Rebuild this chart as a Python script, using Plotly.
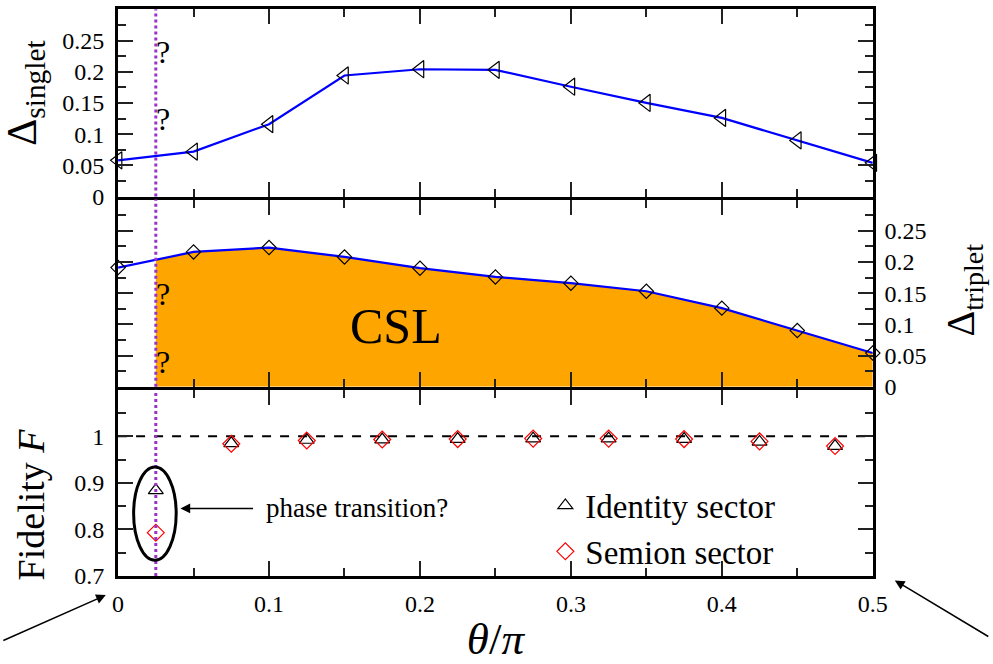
import numpy as np
import plotly.graph_objects as go

# ---- data -------------------------------------------------------------
theta = [0.0, 0.05, 0.10, 0.15, 0.20, 0.25, 0.30, 0.35, 0.40, 0.45, 0.50]
gap_singlet = [0.058, 0.072, 0.116, 0.194, 0.204, 0.203, 0.176, 0.150, 0.126, 0.090, 0.054]
gap_triplet = [0.191, 0.216, 0.223, 0.208, 0.190, 0.176, 0.166, 0.153, 0.126, 0.090, 0.054]

theta_fid = [0.025, 0.075, 0.125, 0.175, 0.225, 0.275, 0.325, 0.375, 0.425, 0.475]
fid_identity = [0.884, 0.985, 0.992, 0.993, 0.994, 0.995, 0.995, 0.994, 0.988, 0.979]
fid_semion = [0.793, 0.984, 0.991, 0.993, 0.994, 0.995, 0.995, 0.994, 0.989, 0.979]

transition = 0.025  # suspected phase-transition point (theta/pi)

x_ticks = [0, 0.1, 0.2, 0.3, 0.4, 0.5]
x_ticktext = ["0", "0.1", "0.2", "0.3", "0.4", "0.5"]
gap_ticks = [0, 0.05, 0.10, 0.15, 0.20, 0.25]
gap_ticktext = ["0", "0.05", "0.1", "0.15", "0.2", "0.25"]
fid_ticks = [0.7, 0.8, 0.9, 1.0]
fid_ticktext = ["0.7", "0.8", "0.9", "1"]

FONT = "'Liberation Serif', Tinos, 'Times New Roman', 'DejaVu Serif', serif"
W, H = 993, 664
LW = 3                              # frame line width
PX_L, PX_R = 113, 887               # frame line centres, left/right (px)
ROWS = [(8, 202), (202, 396), (396, 589)]  # frame line centres, top/bottom (px)


def ydom(top, bottom):
    # axis lines sit outside the domain, so pull the domain in by half a line
    return [1 - (bottom - LW / 2) / H, 1 - (top + LW / 2) / H]


fig = go.Figure()

# ---- top panel: singlet gap --------------------------------------------
fig.add_trace(go.Scatter(
    x=theta, y=gap_singlet, mode="lines+markers", xaxis="x", yaxis="y",
    line=dict(color="#0000ff", width=2.2), cliponaxis=False,
    marker=dict(symbol="triangle-left-open", size=15, color="black", line=dict(width=1.2)),
    showlegend=False, hoverinfo="skip"))

# ---- middle panel: triplet gap with CSL region --------------------------
fill_x = [transition] + [t for t in theta if t > transition]
fill_y = [float(np.interp(transition, theta, gap_triplet))] + \
         [g for t, g in zip(theta, gap_triplet) if t > transition]
fig.add_trace(go.Scatter(
    x=fill_x, y=fill_y, mode="lines", fill="tozeroy", fillcolor="#ffa500",
    line=dict(width=0), xaxis="x2", yaxis="y2", showlegend=False, hoverinfo="skip"))
fig.add_trace(go.Scatter(
    x=theta, y=gap_triplet, mode="lines+markers", xaxis="x2", yaxis="y2",
    line=dict(color="#0000ff", width=2.2), cliponaxis=False,
    marker=dict(symbol="diamond-open", size=11, color="black", line=dict(width=1.2)),
    showlegend=False, hoverinfo="skip"))

# ---- bottom panel: fidelity --------------------------------------------
fig.add_trace(go.Scatter(
    x=theta_fid, y=fid_identity, mode="markers", name="Identity sector",
    xaxis="x3", yaxis="y3",
    marker=dict(symbol="triangle-up-open", size=13, color="black", line=dict(width=1.2))))
fig.add_trace(go.Scatter(
    x=theta_fid, y=fid_semion, mode="markers", name="Semion sector",
    xaxis="x3", yaxis="y3",
    marker=dict(symbol="diamond-open", size=13, color="red", line=dict(width=1.2))))

# ---- axes ---------------------------------------------------------------
xdom = [(PX_L + LW / 2) / W, (PX_R - LW / 2) / W]
common = dict(showline=True, linewidth=LW, linecolor="black", mirror="allticks",
              ticks="inside", ticklen=15, tickwidth=1.5, tickcolor="#222",
              showgrid=False, zeroline=False,
              tickfont=dict(family=FONT, size=24, color="black"))
xcommon = dict(common, range=[0, 0.5], tickmode="array", tickvals=x_ticks,
               ticktext=x_ticktext, domain=xdom,
               minor=dict(ticks="inside", ticklen=8, dtick=0.05, tick0=0,
                          tickwidth=1.5, tickcolor="#222", showgrid=False))
gap_common = dict(common, range=[0, 0.3], tickmode="array", tickvals=gap_ticks,
                  ticktext=gap_ticktext,
                  minor=dict(ticks="inside", ticklen=8, dtick=0.025, tick0=0,
                             tickwidth=1.5, tickcolor="#222", showgrid=False))

fig.update_layout(
    xaxis=dict(xcommon, anchor="y", showticklabels=False),
    xaxis2=dict(xcommon, anchor="y2", showticklabels=False),
    xaxis3=dict(xcommon, anchor="y3", ticklabelstandoff=4,
                title=dict(text="<i>θ</i>/<i>π</i>", standoff=8,
                           font=dict(family=FONT, size=45, color="black"))),
    yaxis=dict(gap_common, anchor="x", domain=ydom(*ROWS[0]), ticklabelstandoff=6),
    yaxis2=dict(gap_common, anchor="x2", domain=ydom(*ROWS[1]), side="right",
                ticklabelstandoff=4),
    yaxis3=dict(common, anchor="x3", domain=ydom(*ROWS[2]), range=[0.7, 1.1],
                tickmode="array", tickvals=fid_ticks, ticktext=fid_ticktext,
                ticklabelstandoff=6,
                minor=dict(ticks="inside", ticklen=8, dtick=0.05, tick0=0.7,
                           tickwidth=1.5, tickcolor="#222", showgrid=False)),
)

# ---- reference lines / shapes -------------------------------------------
shapes = []
for xr, yr in (("x", "y domain"), ("x2", "y2 domain"), ("x3", "y3 domain")):
    shapes.append(dict(type="line", xref=xr, yref=yr, x0=transition, x1=transition,
                       y0=0, y1=1, line=dict(color="#9932cc", width=3, dash="dot"),
                       layer="above"))
shapes.append(dict(type="line", xref="x3 domain", yref="y3", x0=0, x1=1, y0=1, y1=1,
                   line=dict(color="black", width=2, dash="dash"), layer="below"))
shapes.append(dict(type="circle", xref="x3", yref="y3", x0=0.0103, x1=0.0385,
                   y0=0.734, y1=0.934, line=dict(color="black", width=3)))
fig.update_layout(shapes=shapes)

# ---- text and arrows ----------------------------------------------------
ann = []
qfont = dict(family=FONT, size=32, color="black")
for xr, yr, yv in (("x", "y", 0.231), ("x", "y", 0.124), ("x2", "y2", 0.149), ("x2", "y2", 0.040)):
    ann.append(dict(text="?", x=transition, y=yv, xref=xr, yref=yr, xanchor="left",
                    yanchor="middle", showarrow=False, font=qfont, xshift=-2))
ann.append(dict(text="CSL", x=0.184, y=0.0975, xref="x2", yref="y2", showarrow=False,
                xanchor="center", yanchor="middle",
                font=dict(family=FONT, size=50, color="black")))
ann.append(dict(text="phase transition?", x=0.0969, y=0.845, xref="x3", yref="y3",
                xanchor="left", yanchor="middle", showarrow=False,
                font=dict(family=FONT, size=27, color="black")))
ann.append(dict(text="", x=0.0413, y=0.845, xref="x3", yref="y3", ax=0.0904, ay=0.845,
                axref="x3", ayref="y3", showarrow=True, arrowhead=2, arrowsize=1.3,
                arrowwidth=1.5, arrowcolor="black"))
# arrows pointing at the ends of the theta axis
ann.append(dict(text="", x=102 / W, y=1 - 607 / H, xref="paper", yref="paper",
                ax=-104, ay=46, showarrow=True, arrowhead=2, arrowsize=1.3,
                arrowwidth=1.5, arrowcolor="black"))
ann.append(dict(text="", x=908 / W, y=1 - 592 / H, xref="paper", yref="paper",
                ax=95, ay=57, showarrow=True, arrowhead=2, arrowsize=1.3,
                arrowwidth=1.5, arrowcolor="black"))
# axis titles
title_kw = dict(xref="paper", yref="paper", textangle=-90, showarrow=False,
                xanchor="center", yanchor="middle")
ann.append(dict(title_kw, text="Δ<sub>singlet</sub>", x=20 / W, y=1 - 95 / H,
                font=dict(family=FONT, size=42, color="black")))
ann.append(dict(title_kw, text="Δ<sub>triplet</sub>", x=978 / W, y=1 - 296 / H,
                font=dict(family=FONT, size=40, color="black")))
ann.append(dict(title_kw, text="Fidelity <i>F</i>", x=25 / W, y=1 - 514 / H,
                font=dict(family=FONT, size=38, color="black")))
fig.update_layout(annotations=ann)

fig.update_layout(
    width=W, height=H, margin=dict(l=0, r=0, t=0, b=0),
    paper_bgcolor="white", plot_bgcolor="white",
    font=dict(family=FONT, color="black"),
    legend=dict(x=551 / W, y=1 - 487 / H, xanchor="left", yanchor="top",
                bgcolor="rgba(0,0,0,0)", font=dict(family=FONT, size=33, color="black"),
                itemwidth=30, tracegroupgap=0),
)

fig.write_html("out.html")
